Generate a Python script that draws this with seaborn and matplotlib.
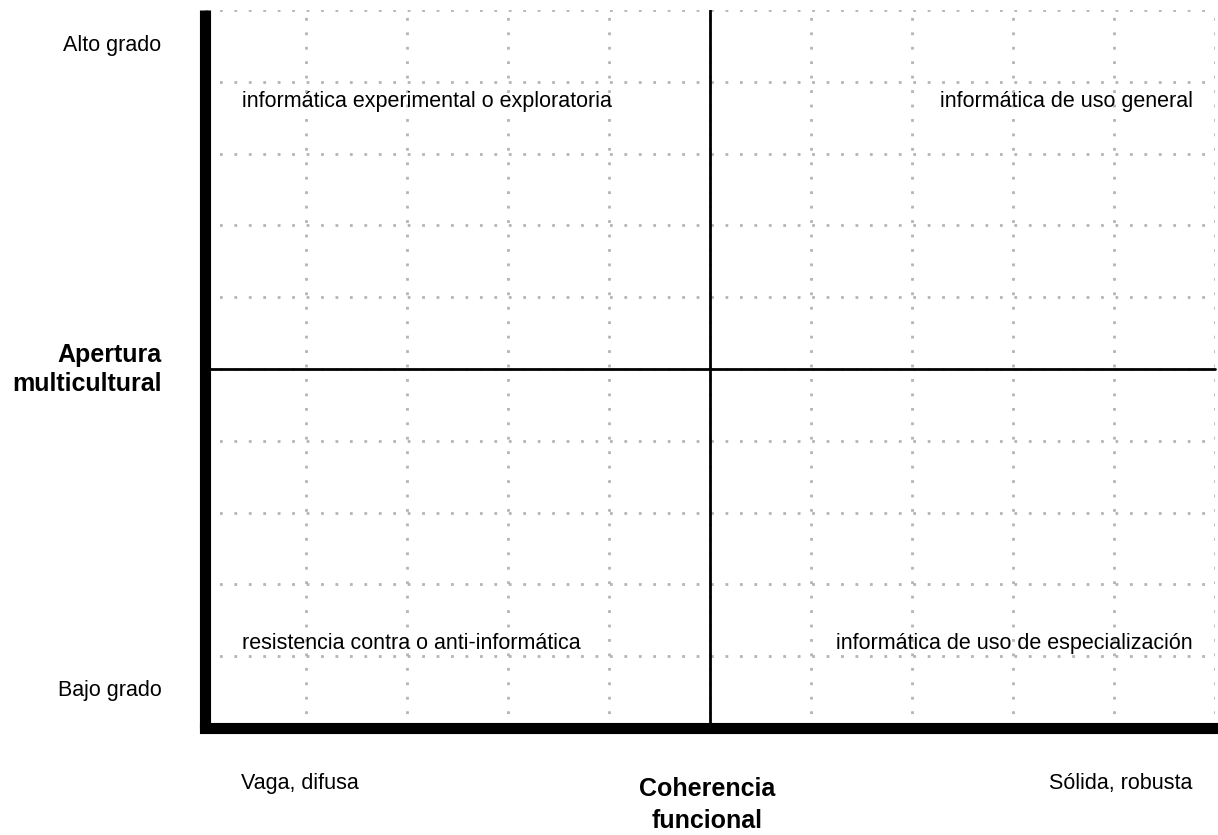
import matplotlib
matplotlib.use("Agg")
import matplotlib.pyplot as plt
import seaborn as sns

# quadrant diagram content
grid_steps = 10
quadrant_names = [
    "informática experimental o exploratoria",   # top-left
    "informática de uso general",                # top-right
    "resistencia contra o anti-informática",     # bottom-left
    "informática de uso de especialización",     # bottom-right
]
y_title = "Apertura\nmulticultural"
y_levels = ["Bajo grado", "Alto grado"]
x_title = "Coherencia\nfuncional"
x_levels = ["Vaga, difusa", "Sólida, robusta"]

sns.set_theme(style="whitegrid", rc={
    "grid.color": "#b4b4b4",
    "grid.linestyle": (0, (1, 4.2)),
    "grid.linewidth": 2.0,
    "text.color": "black",
})
plt.rcParams["font.family"] = ["Liberation Sans", "DejaVu Sans"]

fig = plt.figure(figsize=(12.18, 8.35), dpi=100)
ax = fig.add_axes([205 / 1218, 107 / 835, 1010 / 1218, 718 / 835])

ax.set_xlim(0, grid_steps)
ax.set_ylim(0, grid_steps)
ax.set_xticks(range(grid_steps + 1))
ax.set_yticks(range(grid_steps + 1))
ax.set_xticklabels([])
ax.set_yticklabels([])
ax.tick_params(length=0)
ax.grid(True)

for side in ["top", "right"]:
    ax.spines[side].set_visible(False)
for side in ["left", "bottom"]:
    ax.spines[side].set_visible(True)
    ax.spines[side].set_color("black")
    ax.spines[side].set_linewidth(8)
ax.spines["left"].set_capstyle("butt")
ax.spines["bottom"].set_capstyle("projecting")

mid = grid_steps / 2
ax.axvline(mid, color="black", lw=2)
ax.axhline(mid, color="black", lw=2, clip_on=False)

fs = 15.5
# quadrant labels
ax.text(0.37, 8.72, quadrant_names[0], ha="left", va="center", fontsize=fs)
ax.text(9.78, 8.72, quadrant_names[1], ha="right", va="center", fontsize=fs)
ax.text(0.37, 1.18, quadrant_names[2], ha="left", va="center", fontsize=fs)
ax.text(9.78, 1.18, quadrant_names[3], ha="right", va="center", fontsize=fs)

# y axis labels
ax.text(-0.43, 9.51, y_levels[1], ha="right", va="center", fontsize=fs, clip_on=False)
ax.text(-0.43, 0.52, y_levels[0], ha="right", va="center", fontsize=fs, clip_on=False)
ax.text(-0.43, 4.99, y_title, ha="right", va="center", fontsize=18,
        fontweight="bold", linespacing=1.25, clip_on=False)

# x axis labels
ax.text(0.36, -0.77, x_levels[0], ha="left", va="center", fontsize=fs, clip_on=False)
ax.text(9.78, -0.77, x_levels[1], ha="right", va="center", fontsize=fs, clip_on=False)
ax.text(4.97, -1.07, x_title, ha="center", va="center", fontsize=18,
        fontweight="bold", linespacing=1.45, clip_on=False)

fig.savefig("out.png", dpi=100)
plt.close(fig)
